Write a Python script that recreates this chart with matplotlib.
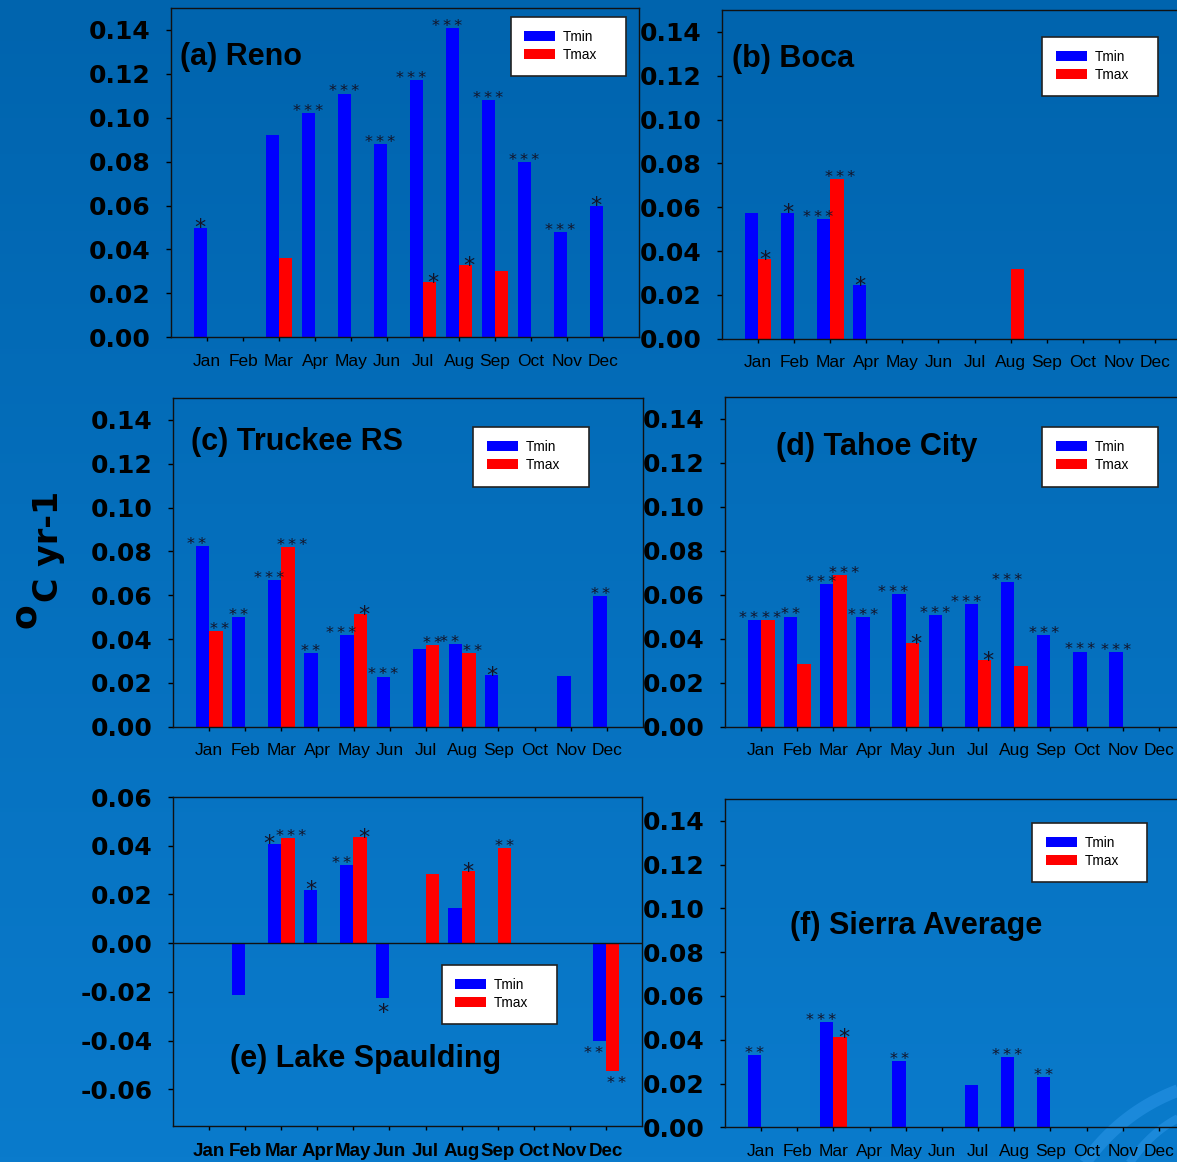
import numpy as np
import matplotlib.pyplot as plt
from matplotlib.patches import Rectangle
from matplotlib.colors import LinearSegmentedColormap

plt.rcParams['font.family'] = ['Liberation Sans', 'DejaVu Sans']

months = ['Jan', 'Feb', 'Mar', 'Apr', 'May', 'Jun', 'Jul', 'Aug', 'Sep', 'Oct', 'Nov', 'Dec']
nan = np.nan

# monthly trends (deg C per year) and significance marks
reno_tmin = [0.050, nan, 0.092, 0.102, 0.111, 0.088, 0.117, 0.141, 0.108, 0.080, 0.048, 0.060]
reno_tmin_sig = ['*', '', '', '***', '***', '***', '***', '***', '***', '***', '***', '*']
reno_tmax = [nan, nan, 0.036, nan, nan, nan, 0.025, 0.033, 0.030, nan, nan, nan]
reno_tmax_sig = ['', '', '', '', '', '', '*', '*', '', '', '', '']

boca_tmin = [0.0575, 0.0575, 0.0546, 0.0245, nan, nan, nan, nan, nan, nan, nan, nan]
boca_tmin_sig = ['', '*', '***', '*', '', '', '', '', '', '', '', '']
boca_tmax = [0.0364, nan, 0.0729, nan, nan, nan, nan, 0.032, nan, nan, nan, nan]
boca_tmax_sig = ['*', '', '***', '', '', '', '', '', '', '', '', '']

truckee_tmin = [0.0825, 0.050, 0.0668, 0.0335, 0.0417, 0.0229, 0.0354, 0.0376, 0.0235, nan, 0.0232, 0.0595]
truckee_tmin_sig = ['**', '**', '***', '**', '***', '***', '', '**', '*', '', '', '**']
truckee_tmax = [0.0436, nan, 0.0819, nan, 0.0514, nan, 0.0372, 0.0335, nan, nan, nan, nan]
truckee_tmax_sig = ['**', '', '***', '', '*', '', '**', '**', '', '', '', '']

tahoe_tmin = [0.0486, 0.0501, 0.0648, 0.0498, 0.0604, 0.0506, 0.0557, 0.066, 0.0415, 0.0342, 0.0339, nan]
tahoe_tmin_sig = ['**', '**', '***', '***', '***', '***', '***', '***', '***', '***', '***', '']
tahoe_tmax = [0.0486, 0.0285, 0.0691, nan, 0.038, nan, 0.0304, 0.0275, nan, nan, nan, nan]
tahoe_tmax_sig = ['**', '', '***', '', '*', '', '*', '', '', '', '', '']

spaulding_tmin = [nan, -0.0212, 0.0408, 0.022, 0.032, -0.0223, nan, 0.0145, nan, nan, nan, -0.0403]
spaulding_tmin_sig = ['', '', '*', '*', '**', '*', '', '', '', '', '', '**']
spaulding_tmax = [nan, nan, 0.043, nan, 0.0436, nan, 0.0285, 0.0296, 0.0389, nan, nan, -0.0523]
spaulding_tmax_sig = ['', '', '***', '', '*', '', '', '*', '**', '', '', '**']

sierra_tmin = [0.033, nan, 0.0482, nan, 0.0301, nan, 0.0192, 0.0321, 0.0231, nan, nan, nan]
sierra_tmin_sig = ['**', '', '***', '', '**', '', '', '***', '**', '', '', '']
sierra_tmax = [nan, nan, 0.0412, nan, nan, nan, nan, nan, nan, nan, nan, nan]
sierra_tmax_sig = ['', '', '*', '', '', '', '', '', '', '', '', '']

W, H = 1177, 1162
fig = plt.figure(figsize=(W / 100, H / 100), dpi=100)


def frac(x, y):
    return x / W, 1 - y / H


# blue slide background
bg = fig.add_axes([0, 0, 1, 1], zorder=-10)
cmap = LinearSegmentedColormap.from_list('bg', ['#0064ae', '#0a7bcc'])
bg.imshow(np.linspace(0, 1, 256)[:, None], aspect='auto', cmap=cmap,
          extent=[0, W, H, 0])
t = np.linspace(0, 1, 50)
for (p0, p1, p2, lw) in [((1080, 1170), (1120, 1110), (1185, 1088), 9),
                         ((1125, 1170), (1150, 1130), (1185, 1115), 6)]:
    bx = (1 - t) ** 2 * p0[0] + 2 * (1 - t) * t * p1[0] + t ** 2 * p2[0]
    by = (1 - t) ** 2 * p0[1] + 2 * (1 - t) * t * p1[1] + t ** 2 * p2[1]
    bg.plot(bx, by, color='#2a96e8', lw=lw, alpha=0.55, solid_capstyle='butt')
bg.set_xlim(0, W)
bg.set_ylim(H, 0)
bg.axis('off')


def panel(box, tmin, tmin_sig, tmax, tmax_sig, ylim, yticks, title, title_xy,
          leg_box, leg_anchor, bold_months=False):
    left, top, right, bottom = box
    ax = fig.add_axes([left / W, 1 - bottom / H, (right - left) / W, (bottom - top) / H])
    ax.set_facecolor('none')
    x = np.arange(1, 13)
    bw = 0.37
    ax.bar(x, tmin, width=-bw, align='edge', color='#0000ff', label='Tmin', zorder=2)
    ax.bar(x, tmax, width=bw, align='edge', color='#ff0000', label='Tmax', zorder=2)

    # significance stars over (or under) each bar; pairs in one month
    # are nudged apart so they don't run into each other
    both = [bool(a) and bool(b) for a, b in zip(tmin_sig, tmax_sig)]
    for xs, vals, sigs, nudge in ((x - bw / 2, tmin, tmin_sig, -4.0),
                                  (x + bw / 2, tmax, tmax_sig, 2.5)):
        for xi, v, s, pair in zip(xs, vals, sigs, both):
            if not s or np.isnan(v):
                continue
            if len(s) == 1:
                size, txt = 16, s
                off = -0.30 * size if v >= 0 else -(0.76 * size + 3.5)
            else:
                size, txt = 11.5, '\u2009'.join(s)
                off = -0.18 * size if v >= 0 else -(0.76 * size + 3.5)
            ax.annotate(txt, (xi, v), xytext=(nudge if pair else 0, off),
                        textcoords='offset points', ha='center', va='baseline',
                        fontsize=size, family='DejaVu Sans', color='#141428',
                        zorder=3)

    if ylim[0] < 0:
        ax.axhline(0, color='#111111', lw=1, zorder=2)

    ax.set_xlim(0, 13)
    ax.set_xticks(x)
    if bold_months:
        ax.set_xticklabels(months, fontweight='bold', fontsize=13.5)
    else:
        ax.set_xticklabels(months, fontsize=12.5)
    ax.set_ylim(*ylim)
    ax.set_yticks(yticks)
    ax.set_yticklabels([f'{v:.2f}' for v in yticks], family='DejaVu Sans',
                       fontweight='bold', fontsize=18)
    ax.tick_params(axis='y', direction='out', length=3.6, width=1, pad=11)
    ax.tick_params(axis='x', direction='out', length=3, width=1, pad=9)
    for sp in ax.spines.values():
        sp.set_linewidth(1)
        sp.set_color('#111111')

    fig.text(*frac(*title_xy), title, ha='left', va='center', fontsize=22,
             fontweight='bold', color='black')

    # legend in a white framed box
    x0, y0, x1, y1 = leg_box
    ax.add_patch(Rectangle(frac(x0, y1), (x1 - x0) / W, (y1 - y0) / H,
                           transform=fig.transFigure, facecolor='white',
                           edgecolor='#222222', lw=1.2, zorder=5, clip_on=False))
    leg = ax.legend(loc='upper left', bbox_to_anchor=frac(*leg_anchor),
                    bbox_transform=fig.transFigure, frameon=False, borderpad=0,
                    borderaxespad=0, handlelength=2.3, handleheight=0.75,
                    handletextpad=0.55, labelspacing=0.3, fontsize=9.8)
    leg.set_zorder(6)
    return ax


pos_ticks = np.round(np.arange(0, 0.141, 0.02), 2)
mix_ticks = np.round(np.arange(-0.06, 0.061, 0.02), 2)

panel((171, 8, 639, 337.3), reno_tmin, reno_tmin_sig, reno_tmax, reno_tmax_sig,
      (0, 0.15), pos_ticks, '(a) Reno', (180, 57),
      (511, 17, 626, 76), (524, 30))
panel((722, 10, 1191, 338.7), boca_tmin, boca_tmin_sig, boca_tmax, boca_tmax_sig,
      (0, 0.15), pos_ticks, '(b) Boca', (732, 59),
      (1042, 37, 1158, 96), (1056, 50))
panel((173, 398, 643, 726.7), truckee_tmin, truckee_tmin_sig, truckee_tmax, truckee_tmax_sig,
      (0, 0.15), pos_ticks, '(c) Truckee RS', (191, 442),
      (473, 427, 589, 487), (487, 440))
panel((725, 397, 1195, 726.7), tahoe_tmin, tahoe_tmin_sig, tahoe_tmax, tahoe_tmax_sig,
      (0, 0.15), pos_ticks, '(d) Tahoe City', (776, 447),
      (1042, 427, 1158, 487), (1056, 440))
panel((173, 797, 642, 1126), spaulding_tmin, spaulding_tmin_sig, spaulding_tmax, spaulding_tmax_sig,
      (-0.075, 0.06), mix_ticks, '(e) Lake Spaulding', (230, 1059),
      (442, 965, 557, 1024), (455, 978), bold_months=True)
panel((725, 799, 1195, 1127.3), sierra_tmin, sierra_tmin_sig, sierra_tmax, sierra_tmax_sig,
      (0, 0.15), pos_ticks, '(f) Sierra Average', (790, 926),
      (1032, 823, 1147, 882), (1046, 836))

# shared y label
fig.text(*frac(58, 546), 'C yr-1', rotation=90, rotation_mode='anchor',
         ha='center', va='baseline', family='DejaVu Sans', fontweight='bold',
         fontsize=24, color='black')
fig.text(*frac(35, 616), 'o', rotation=90, rotation_mode='anchor',
         ha='center', va='baseline', family='DejaVu Sans', fontweight='bold',
         fontsize=26, color='black')

plt.savefig('out.png', dpi=100)
